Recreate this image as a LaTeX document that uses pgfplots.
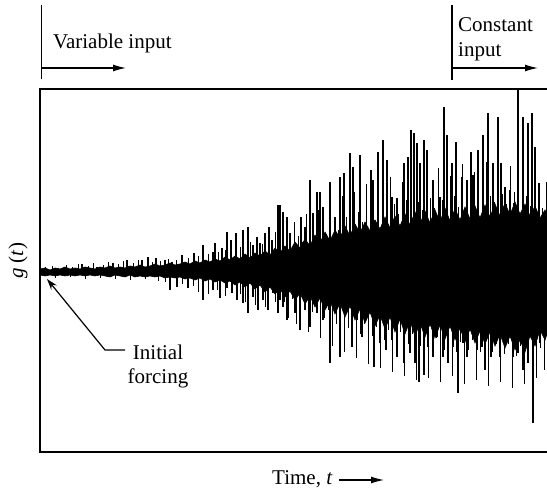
\documentclass[border=0pt]{standalone}
\usepackage{fontspec}
\setmainfont{Liberation Serif}
\usepackage{pgfplots}
\pgfplotsset{compat=1.18}
\usetikzlibrary{arrows.meta}
\begin{document}
\begin{tikzpicture}[x=1bp,y=1bp]
\useasboundingbox (0,0) rectangle (547,492);
\begin{axis}[at={(40bp,40bp)}, anchor=south west, scale only axis,
  width=507bp, height=363bp, xmin=40, xmax=547, ymin=-180, ymax=183, hide axis]
% dense core band of g(t)
\addplot[fill=black, draw=black, line width=0.6bp, mark=none] coordinates {
(40,3)(45,4)(50,2)(55,4)(60,3)(65,5)(70,3)(75,4)(80,3)(85,5)(90,4)(95,3)(100,5)(105,4)(110,6)(115,4)(120,5)(125,4)(130,6)(135,5)(140,7)(145,5)(150,6)(155,8)(160,6)(165,7)(170,9)(175,7)(180,8)(185,10)(190,8)(195,11)(200,9)(205,12)(210,10)(215,13)(220,11)(225,15)(230,12)(235,16)(240,13)(245,18)(250,14)(255,19)(260,16)(265,21)(270,17)(275,24)(280,19)(285,26)(290,21)(295,30)(300,24)(305,33)(310,26)(315,37)(320,29)(325,40)(330,31)(335,42)(340,34)(345,46)(350,36)(355,48)(360,39)(365,50)(370,41)(375,52)(380,43)(385,55)(390,44)(395,56)(400,46)(405,58)(410,47)(415,60)(420,48)(425,61)(430,49)(435,62)(440,50)(445,64)(450,51)(455,63)(460,52)(465,65)(470,53)(475,66)(480,54)(485,67)(490,55)(495,68)(500,56)(505,69)(510,57)(515,70)(520,58)(525,68)(530,56)(535,66)(540,54)(545,62)(547,58)
(547,-62)(545,-68)(540,-58)(535,-74)(530,-64)(525,-80)(520,-68)(515,-78)(510,-64)(505,-76)(500,-62)(495,-74)(490,-60)(485,-72)(480,-59)(475,-71)(470,-57)(465,-70)(460,-56)(455,-68)(450,-54)(445,-67)(440,-53)(435,-66)(430,-52)(425,-65)(420,-51)(415,-64)(410,-49)(405,-62)(400,-47)(395,-60)(390,-45)(385,-57)(380,-43)(375,-54)(370,-40)(365,-51)(360,-37)(355,-48)(350,-34)(345,-45)(340,-31)(335,-42)(330,-29)(325,-38)(320,-26)(315,-35)(310,-24)(305,-32)(300,-21)(295,-28)(290,-19)(285,-25)(280,-17)(275,-22)(270,-15)(265,-20)(260,-13)(255,-17)(250,-11)(245,-15)(240,-10)(235,-13)(230,-9)(225,-11)(220,-8)(215,-10)(210,-7)(205,-9)(200,-6)(195,-8)(190,-6)(185,-7)(180,-5)(175,-6)(170,-5)(165,-6)(160,-4)(155,-5)(150,-4)(145,-5)(140,-4)(135,-5)(130,-3)(125,-5)(120,-4)(115,-3)(110,-5)(105,-4)(100,-3)(95,-4)(90,-3)(85,-4)(80,-3)(75,-4)(70,-3)(65,-4)(60,-3)(55,-4)(50,-3)(45,-4)(40,-3)
} -- cycle;
% medium excursions
\addplot[ycomb, black, line width=0.9bp, mark=none] coordinates {
(45,5)(52,6)(58,4)(66,7)(72,5)(78,8)(88,6)(93,9)(103,7)(108,10)(118,8)(123,11)(133,9)(138,12)(152,10)(160,11)(168,13)(176,12)(188,14)(198,16)(208,18)(218,20)(225,22)(240,25)(250,30)(262,28)(275,40)
(282,32)(286,44)(290,28)(294,50)(298,36)(302,30)(306,58)(310,40)(314,34)(318,62)(322,45)(326,38)(330,70)(334,50)(338,42)(342,76)(346,55)(350,47)(354,80)(358,60)(362,50)(366,88)(370,62)(374,52)(378,85)(382,66)(386,56)(390,95)(394,68)(398,58)(402,90)(406,72)(410,60)(414,100)(418,70)(422,62)(426,98)(430,74)(434,64)(438,104)(442,72)(446,66)(450,96)(454,76)(458,65)(462,108)(466,74)(470,68)(474,100)(478,78)(482,66)(486,110)(490,76)(494,70)(498,102)(502,78)(506,68)(510,106)(514,80)(518,70)(522,100)(526,76)(530,66)(534,96)(538,72)(542,64)(546,90)
(55,-6)(70,-5)(85,-7)(100,-6)(115,-7)(130,-8)(145,-7)(158,-9)(165,-10)(182,-12)(193,-14)(198,-20)(208,-22)(217,-18)(225,-24)(240,-22)(245,-30)(255,-33)(265,-35)(275,-30)
(284,-30)(288,-46)(292,-27)(296,-52)(300,-34)(304,-30)(308,-60)(312,-40)(316,-35)(320,-66)(324,-46)(328,-38)(332,-74)(336,-52)(340,-44)(344,-80)(348,-56)(352,-48)(356,-86)(360,-62)(364,-52)(368,-92)(372,-64)(376,-55)(380,-96)(384,-68)(388,-58)(392,-100)(396,-70)(400,-60)(404,-104)(408,-72)(412,-62)(416,-108)(420,-74)(424,-64)(428,-106)(432,-76)(436,-66)(440,-110)(444,-78)(448,-68)(452,-104)(456,-80)(460,-70)(464,-112)(468,-78)(472,-68)(476,-108)(480,-80)(484,-70)(488,-114)(492,-80)(496,-72)(500,-110)(504,-82)(508,-72)(512,-116)(516,-84)(520,-74)(524,-112)(528,-80)(532,-70)(536,-106)(540,-76)(544,-98)
};
% tall upward spikes
\addplot[ycomb, black, line width=1.3bp, mark=none] coordinates {
(82,8)(97,5)(113,9)(127,12)(142,12)(148,15)(156,14)(165,12)(172,10)(182,17)(194,19)(203,27)(213,20)(215,29)(222,24)(227,40)(231,32)(236,39)(243,42)(248,45)(253,27)(257,35)(260,29)(265,39)(269,45)(272,32)(278,67)(283,60)
(280,67)(287,55)(290,39)(295,29)(301,55)(305,45)(310,92)(313,59)(317,80)(320,80)(323,65)(330,90)(335,55)(340,95)(344,99)(350,119)(353,105)(360,117)(365,49)(371,102)(373,92)(378,120)(383,132)(387,112)(392,75)(397,74)(404,109)(408,115)(411,142)(414,139)(417,129)(420,109)(424,132)(427,122)(433,92)(437,45)(440,75)(444,165)(447,137)(452,109)(456,130)(462,95)(467,92)(471,120)(473,97)(478,122)(483,137)(488,159)(493,109)(498,155)(501,109)(505,85)(510,82)(514,69)(518,185)(523,155)(528,149)(532,159)(535,125)(539,89)(545,52)
};
% tall downward spikes
\addplot[ycomb, black, line width=1.3bp, mark=none] coordinates {
(170,-18)(177,-15)(188,-16)(203,-28)(213,-18)(220,-26)(227,-16)(232,-21)(237,-28)(243,-31)(248,-41)(253,-25)(258,-38)(263,-28)(268,-38)(273,-21)(278,-41)(283,-35)
(280,-28)(287,-48)(295,-41)(300,-58)(305,-38)(310,-55)(317,-41)(323,-48)(330,-91)(335,-21)(340,-85)(347,-38)(352,-75)(357,-48)(362,-65)(368,-41)(374,-95)(380,-71)(386,-78)(392,-68)(397,-85)(400,-48)(404,-91)(410,-81)(415,-91)(419,-110)(424,-103)(428,-75)(433,-85)(437,-65)(443,-85)(448,-91)(453,-75)(458,-121)(463,-71)(467,-85)(472,-48)(477,-78)(482,-75)(485,-98)(491,-85)(495,-61)(500,-85)(507,-48)(513,-85)(518,-81)(523,-98)(528,-91)(533,-151)(540,-71)(545,-55)
};
\end{axis}
% frame (left, top, bottom)
\draw[line width=1.6bp] (547,403) -- (40,403) -- (40,40) -- (547,40);
% annotations
\tikzset{lbl/.style={font=\fontsize{21bp}{25bp}\selectfont, inner sep=0pt}}
\draw[line width=1.2bp] (41.5,487) -- (41.5,413);
\draw[line width=1.2bp, -{Latex[length=13bp,width=7bp]}] (41.5,424) -- (126,424);
\node[lbl, anchor=base west] at (53,443) {Variable input};
\draw[line width=1.2bp] (452,487) -- (452,412);
\draw[line width=1.2bp, -{Latex[length=13bp,width=7bp]}] (452,424) -- (538,424);
\node[lbl, anchor=base west] at (458,460) {Constant};
\node[lbl, anchor=base west] at (458,435) {input};
\node[lbl, anchor=base west] at (272,7) {Time, \textit{t}};
\draw[line width=1.2bp, -{Latex[length=13bp,width=7bp]}] (339,12) -- (384,12);
\node[lbl, rotate=90, anchor=center] at (18,231) {\textit{g} (\textit{t})};
\draw[line width=1.2bp, -{Stealth[length=11bp,width=7bp]}] (125,142) -- (105,142) -- (47,213);
\node[lbl, anchor=base] at (158,132) {Initial};
\node[lbl, anchor=base] at (158,108) {forcing};
\end{tikzpicture}
\end{document}
